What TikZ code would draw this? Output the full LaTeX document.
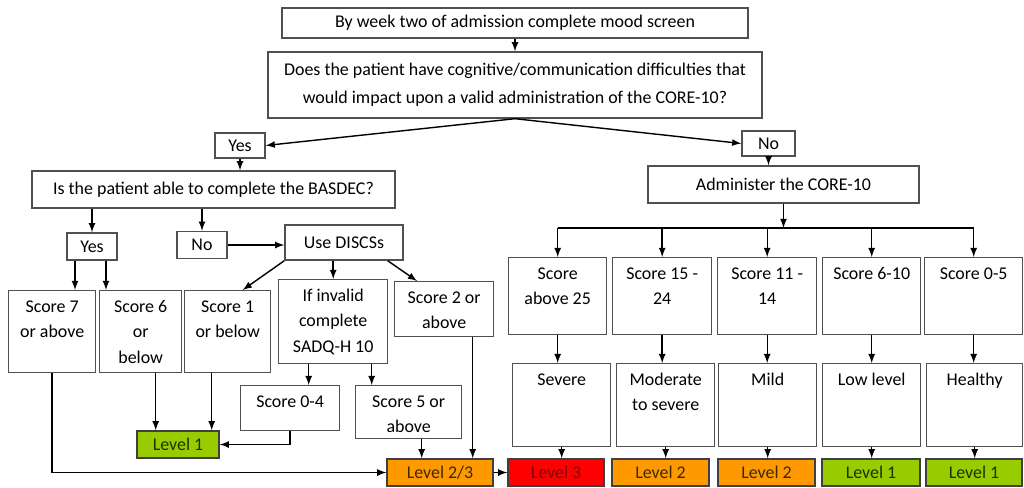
\documentclass[tikz,border=0pt]{standalone}
\usepackage{fontspec}
\setmainfont{Carlito}
\usetikzlibrary{calc}

\definecolor{boxgray}{HTML}{505050}
\definecolor{lvgreen}{HTML}{99CC00}
\definecolor{lvorange}{HTML}{FF9900}
\definecolor{lvred}{HTML}{FF0000}
\definecolor{greentext}{HTML}{1A3300}
\definecolor{orangetext}{HTML}{3D2A00}
\definecolor{redtext}{HTML}{7A0A0A}

% box with its text at the top
\newcommand{\tb}[3]{\parbox[c][#2][t]{#1}{\centering\vspace*{2pt}\strut#3\par}}

\tikzset{
  box/.style={draw=boxgray, line width=0.8pt, inner sep=0pt, align=center, fill=white},
  lvl/.style={box, draw=black!75, minimum height=0.54cm},
  green lvl/.style={lvl, fill=lvgreen, text=greentext},
  orange lvl/.style={lvl, fill=lvorange, text=orangetext},
  red lvl/.style={lvl, fill=lvred, text=redtext},
}

\begin{document}
\begin{tikzpicture}[x=0.02cm, y=-0.02cm, >=latex, thick,
    every node/.style={font=\fontsize{10.2}{14.5}\selectfont}]
        \useasboundingbox (0,0) rectangle (1024,487);

        % top of the chart
        \node[box, minimum width=9.32cm, minimum height=0.6cm] (mood) at (515,23) {By week two of admission complete mood screen};
        \node[box, minimum width=9.88cm, minimum height=1.32cm, font=\fontsize{10.2}{16}\selectfont] (cog) at (515,85) {Does the patient have cognitive/communication difficulties that\\would impact upon a valid administration of the CORE-10?};
        \node[box, minimum width=1cm, minimum height=0.5cm] (yes) at (240,145.5) {Yes};
        \node[box, minimum width=1.06cm, minimum height=0.5cm] (no) at (768.5,143.5) {No};

        % left branch
        \node[box, minimum width=7.26cm, minimum height=0.74cm] (basdec) at (213.5,189.5) {Is the patient able to complete the BASDEC?};
        \node[box, minimum width=1cm, minimum height=0.54cm] (yes2) at (92,246.5) {Yes};
        \node[box, minimum width=1cm, minimum height=0.54cm] (no2) at (202,245) {No};
        \node[box, minimum width=2.36cm, minimum height=0.7cm] (discs) at (344,242.5) {Use DISCSs};

        \node[box, anchor=north west] (s7) at (8,290) {\tb{1.74cm}{1.64cm}{Score 7\\or above}};
        \node[box, anchor=north west] (s6) at (99,290) {\tb{1.64cm}{1.64cm}{Score 6\\or\\below}};
        \node[box, anchor=north west] (s1) at (184,290) {\tb{1.72cm}{1.64cm}{Score 1\\or below}};
        \node[box, anchor=north west] (sadq) at (278,279) {\tb{2.18cm}{1.68cm}{If invalid\\complete\\SADQ-H 10}};
        \node[box, anchor=north west] (s2) at (394,281) {\tb{1.98cm}{1.1cm}{Score 2 or\\above}};
        \node[box, anchor=north west] (s04) at (240,385) {\tb{1.98cm}{0.9cm}{Score 0-4}};
        \node[box, anchor=north west] (s5) at (355,385) {\tb{2.12cm}{1.06cm}{Score 5 or\\above}};

        \node[green lvl, minimum width=1.64cm] (lv1a) at (178,444.5) {Level 1};
        \node[orange lvl, minimum width=2.12cm] (lv23) at (440,472.5) {Level 2/3};

        % right branch
        \node[box, minimum width=5.42cm, minimum height=0.74cm] (core) at (783.5,184.5) {Administer the CORE-10};

        \node[box, anchor=north west] (c1) at (508,257) {\tb{1.96cm}{1.54cm}{Score\\above 25}};
        \node[box, anchor=north west] (c2) at (612,257) {\tb{1.98cm}{1.54cm}{Score 15 -\\24}};
        \node[box, anchor=north west] (c3) at (717,257) {\tb{1.98cm}{1.54cm}{Score 11 -\\14}};
        \node[box, anchor=north west] (c4) at (822,257) {\tb{1.96cm}{1.54cm}{Score 6-10}};
        \node[box, anchor=north west] (c5) at (924,257) {\tb{1.96cm}{1.54cm}{Score 0-5}};

        \node[box, anchor=north west] (v1) at (512,363) {\tb{1.96cm}{1.66cm}{Severe}};
        \node[box, anchor=north west] (v2) at (616,363) {\tb{1.96cm}{1.66cm}{Moderate\\to severe}};
        \node[box, anchor=north west] (v3) at (718,363) {\tb{1.96cm}{1.66cm}{Mild}};
        \node[box, anchor=north west] (v4) at (822,363) {\tb{1.96cm}{1.66cm}{Low level}};
        \node[box, anchor=north west] (v5) at (926,363) {\tb{1.92cm}{1.66cm}{Healthy}};

        \node[red lvl, minimum width=1.92cm] (l1) at (556,472.5) {Level 3};
        \node[orange lvl, minimum width=1.94cm] (l2) at (660.5,472.5) {Level 2};
        \node[orange lvl, minimum width=1.94cm] (l3) at (766.5,472.5) {Level 2};
        \node[green lvl, minimum width=1.96cm] (l4) at (871,472.5) {Level 1};
        \node[green lvl, minimum width=1.92cm] (l5) at (974,472.5) {Level 1};

        % connectors
        \draw[->] (mood) -- (cog);
        \draw[->] (cog.south) -- (yes.east);
        \draw[->] (cog.south) -- (no.west);
        \draw[->] (yes.south) -- (yes.south |- basdec.north);
        \draw[->] (no.south) -- (no.south |- core.north);

        \draw[->] (yes2.north |- basdec.south) -- (yes2.north);
        \draw[->] (no2.north |- basdec.south) -- (no2.north);
        \draw[->] (no2.east) -- (no2.east -| discs.west);
        \draw[->] ($(yes2.south)+(-17,0)$) coordinate (a) -- (a |- s7.north);
        \draw[->] ($(yes2.south)+(14,0)$) coordinate (a) -- (a |- s6.north);
        \draw[->] (discs.south west) -- ($(s1.north)+(15,0)$);
        \draw[->] (sadq.north |- discs.south) -- (sadq.north);
        \draw[->] ($(discs.south east)+(-16,0)$) -- ($(s2.north west)+(23,0)$);
        \draw[->] (s7.south) |- (lv23.west);
        \draw[->] ($(s6.south)+(15,0)$) coordinate (a) -- (a |- lv1a.north);
        \draw[->] ($(s1.south)+(-16,0)$) coordinate (a) -- (a |- lv1a.north);
        \draw[->] ($(sadq.south)+(-24.5,0)$) coordinate (a) -- (a |- s04.north);
        \draw[->] ($(sadq.south)+(38.5,0)$) coordinate (a) -- (a |- s5.north);
        \draw[->] (s04.south) |- (lv1a.east);
        \draw[->] ($(s5.south)+(13,0)$) coordinate (a) -- (a |- lv23.north);
        \draw[->] ($(s2.south)+(28.5,0)$) coordinate (a) -- (a |- lv23.north);
        \draw[->] (lv23.east) -- (l1.west);

        \coordinate (bar) at (783.5,228);
        \draw[->] (core.south) -- (core.south |- bar);
        \draw (c1.north |- bar) -- (c5.north |- bar);
        \foreach \i in {1,...,5} {
            \draw[->] (c\i.north |- bar) -- (c\i.north);
            \draw[->] (c\i.south) -- (c\i.south |- v\i.north);
            \draw[->] (v\i.south) -- (v\i.south |- l\i.north);
        }

    \end{tikzpicture}
\end{document}
